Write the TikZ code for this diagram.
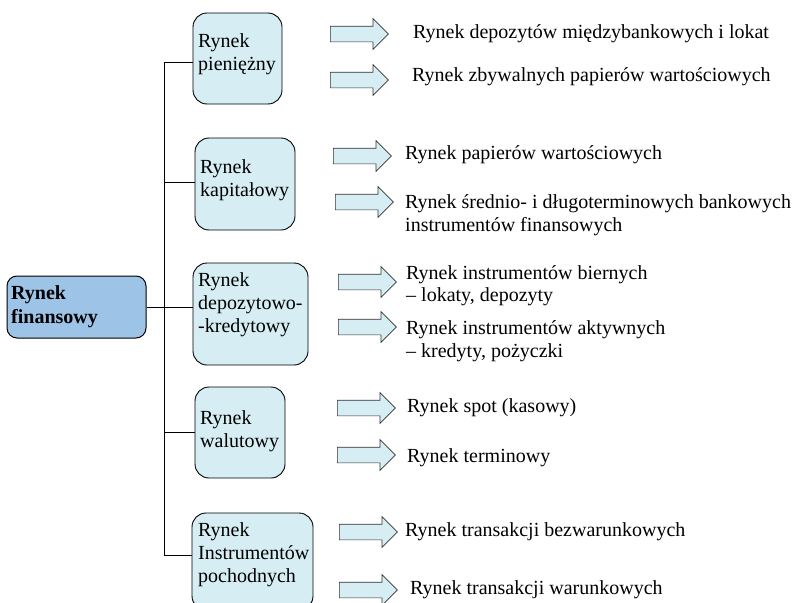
\documentclass[tikz,border=0pt]{standalone}
\usepackage{fontspec}
\setmainfont{Liberation Serif}
\newfontfamily\tnr{Liberation Serif}
\usetikzlibrary{shapes.arrows}
\definecolor{leftfill}{HTML}{9DC3E6}
\definecolor{boxfill}{HTML}{D5EDF3}
\begin{document}
\begin{tikzpicture}[x=1pt,y=-1pt,
  mbox/.style={draw=black, line width=0.9pt, fill=boxfill, rounded corners=14pt, inner sep=0pt},
  lbox/.style={draw=black, line width=1pt, fill=leftfill, rounded corners=10pt, inner sep=0pt},
  btxt/.style={anchor=west, align=left, inner sep=0pt, font=\tnr\fontsize{20}{23}\selectfont},
  rtxt/.style={anchor=west, align=left, inner sep=0pt, font=\tnr\fontsize{20}{22.5}\selectfont},
  barrow/.style={single arrow, draw=black!80, line width=0.7pt, fill=boxfill,
    minimum height=58pt, minimum width=30pt, single arrow head extend=7.5pt,
    inner sep=0pt, anchor=west},
  conn/.style={draw=black, line width=1pt}]
\useasboundingbox (0,0) rectangle (794,602);
\clip (0,0) rectangle (794,602);

% left box
\node[lbox, minimum width=139pt, minimum height=62pt] (L) at (76.5,307) {};
\node[btxt, font=\tnr\fontsize{20}{24}\selectfont\bfseries] (Lt) at (11,307) {Rynek\\finansowy};

% category boxes
\node[mbox, minimum width=89pt, minimum height=91pt] (b1) at (237.5,58.5) {};
\node[mbox, minimum width=100pt, minimum height=92pt] (b2) at (245,184) {};
\node[mbox, minimum width=115pt, minimum height=102pt] (b3) at (250.5,314) {};
\node[mbox, minimum width=90pt, minimum height=91pt] (b4) at (240,432.5) {};
\node[mbox, minimum width=121pt, minimum height=97pt] (b5) at (252.5,561.5) {};

\node[btxt] (b1t) at (198,54) {Rynek\\pieniężny};
\node[btxt] (b2t) at (200,180) {Rynek\\kapitałowy};
\node[btxt] (b3t) at (198,305) {Rynek\\depozytowo-\\-kredytowy};
\node[btxt] (b4t) at (200,431) {Rynek\\walutowy};
\node[btxt] (b5t) at (198,555) {Rynek\\Instrumentów\\pochodnych};

% junctions on spine
\coordinate (j1) at (164,62);
\coordinate (j2) at (164,182);
\coordinate (j3) at (164,307);
\coordinate (j4) at (164,432);
\coordinate (j5) at (164,555);

\draw[conn] (j1) -- (j5);
\draw[conn] (L.east) -- (j3);
\draw[conn] (j1) -- (j1 -| b1.west);
\draw[conn] (j2) -- (j2 -| b2.west);
\draw[conn] (j3) -- (j3 -| b3.west);
\draw[conn] (j4) -- (j4 -| b4.west);
\draw[conn] (j5) -- (j5 -| b5.west);

% block arrows
\node[barrow] (a1) at (330,34) {\rule{0pt}{15pt}};
\node[barrow] (a2) at (330,80) {\rule{0pt}{15pt}};
\node[barrow] (a3) at (333,156) {\rule{0pt}{15pt}};
\node[barrow] (a4) at (335,202) {\rule{0pt}{15pt}};
\node[barrow] (a5) at (338,282) {\rule{0pt}{15pt}};
\node[barrow] (a6) at (338,327) {\rule{0pt}{15pt}};
\node[barrow] (a7) at (337,408) {\rule{0pt}{15pt}};
\node[barrow] (a8) at (337,455) {\rule{0pt}{15pt}};
\node[barrow] (a9) at (339,532) {\rule{0pt}{15pt}};
\node[barrow] (a10) at (339,590) {\rule{0pt}{15pt}};

% texts
\node[rtxt] (t1) at (413,34) {Rynek depozytów międzybankowych i lokat};
\node[rtxt] (t2) at (412,77) {Rynek zbywalnych papierów wartościowych};
\node[rtxt] (t3) at (405,155) {Rynek papierów wartościowych};
\node[rtxt] (t4) at (405,215) {Rynek średnio- i długoterminowych bankowych\\instrumentów finansowych};
\node[rtxt] (t5) at (406,285.5) {Rynek instrumentów biernych\\– lokaty, depozyty};
\node[rtxt] (t6) at (406,341) {Rynek instrumentów aktywnych\\– kredyty, pożyczki};
\node[rtxt] (t7) at (407,408) {Rynek spot (kasowy)};
\node[rtxt] (t8) at (407,458) {Rynek terminowy};
\node[rtxt] (t9) at (405,532) {Rynek transakcji bezwarunkowych};
\node[rtxt] (t10) at (410,590) {Rynek transakcji warunkowych};
\end{tikzpicture}
\end{document}
